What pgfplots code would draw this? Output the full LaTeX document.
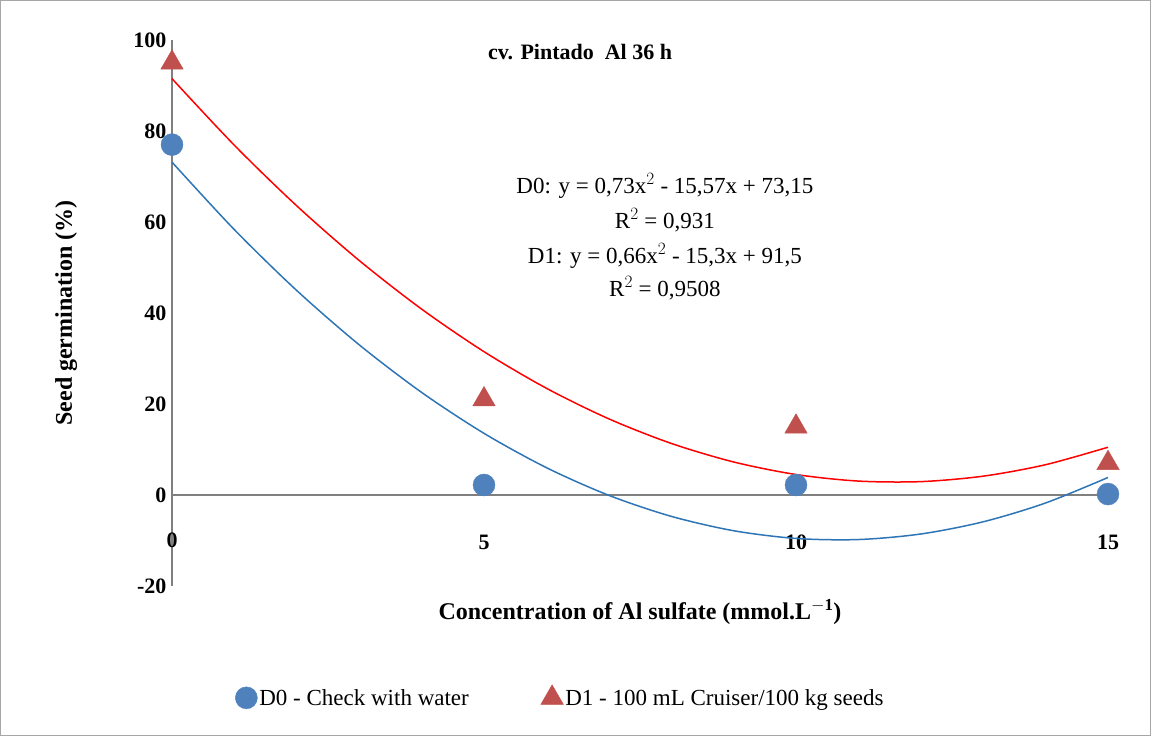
\documentclass[border=0pt]{standalone}
\usepackage{pgfplots}
\pgfplotsset{compat=1.18}
\usepackage{fontspec}
\setmainfont{Liberation Serif}
\definecolor{bm}{HTML}{4F81BD}
\definecolor{rm}{HTML}{C0504D}
\definecolor{bl}{HTML}{2E75B6}
\begin{document}
\begin{tikzpicture}
\useasboundingbox (0,0) rectangle (1151pt,736pt);
\draw[gray!70, line width=1pt] (0.5pt,0.5pt) rectangle (1150.5pt,735.5pt);
\begin{axis}[at={(172pt,150pt)}, anchor=south west, scale only axis,
  width=936pt, height=546pt, xmin=0, xmax=15, ymin=-20, ymax=100,
  axis x line=middle, axis y line=left, axis line style={gray, line width=1.5pt, -},
  xtick={5,10,15}, ytick={-20,0,20,40,60,80,100},
  tick style={draw=none},
  xticklabel style={yshift=-34pt},
  ticklabel style={font=\fontsize{22}{26}\selectfont\bfseries},
  /pgf/number format/assume math mode=true,
  clip=false,
  legend style={at={(0.415,-0.203)}, anchor=center, draw=none, legend columns=2,
    font=\fontsize{23}{27}\selectfont, /tikz/every even column/.append style={column sep=70pt}},
]
\addplot[bl, line width=1.5pt, smooth, forget plot] coordinates {(0,73.15)(1,58.31)(2,44.93)(3,33.01)(4,22.55)(5,13.55)(6,6.01)(7,-0.07)(8,-4.69)(9,-7.85)(10,-9.55)(11,-9.79)(12,-8.57)(13,-5.89)(14,-1.75)(15,3.85)};
\addplot[red, line width=1.5pt, smooth, forget plot] coordinates {(0,91.5)(1,76.86)(2,63.54)(3,51.54)(4,40.86)(5,31.5)(6,23.46)(7,16.74)(8,11.34)(9,7.26)(10,4.5)(11,3.06)(12,2.94)(13,4.14)(14,6.66)(15,10.5)};
\addplot[only marks, mark=*, mark size=11pt, mark options={fill=bm, draw=bm}] coordinates {(0,77)(5,2.2)(10,2.2)(15,0.2)};
\addlegendentry{D0 - Check with water}
\addplot[only marks, mark=triangle*, mark size=13pt, mark options={fill=rm, draw=rm}] coordinates {(0,95)(5,21)(10,15)(15,7)};
\addlegendentry{D1 - 100 mL Cruiser/100 kg seeds}
\node[font=\fontsize{22}{26}\selectfont\bfseries] at (axis cs:0,-9.9) {0};
\node[font=\fontsize{22}{26}\selectfont\bfseries] at (axis cs:6.54,97.4) {cv. Pintado\ \ Al 36 h};
\node[font=\fontsize{23}{26}\selectfont] at (axis cs:7.9,67.9) {D0: y = 0,73x$^2$ - 15,57x + 73,15};
\node[font=\fontsize{23}{26}\selectfont] at (axis cs:7.9,60.4) {R$^2$ = 0,931};
\node[font=\fontsize{23}{26}\selectfont] at (axis cs:7.9,52.5) {D1: y = 0,66x$^2$ - 15,3x + 91,5};
\node[font=\fontsize{23}{26}\selectfont] at (axis cs:7.9,45.5) {R$^2$ = 0,9508};
\node[font=\fontsize{24}{28}\selectfont\bfseries] at (rel axis cs:0.5,-0.048) {Concentration of Al sulfate (mmol.L$^{\mathbf{-1}}$)};
\node[font=\fontsize{24}{28}\selectfont\bfseries, rotate=90] at (rel axis cs:-0.113,0.5) {Seed germination (\%)};
\end{axis}
\end{tikzpicture}
\end{document}
